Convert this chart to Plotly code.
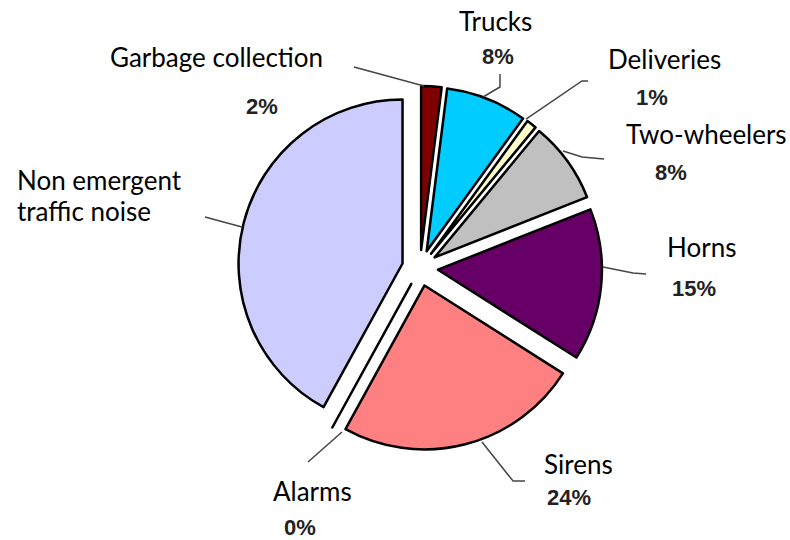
import plotly.graph_objects as go

W, H = 790, 540

# ---- data ----
categories = ["Garbage collection", "Trucks", "Deliveries", "Two-wheelers",
              "Horns", "Sirens", "Alarms", "Non emergent traffic noise"]
shares = [2, 8, 1, 8, 15, 24, 0, 42]
show_pct = [True, True, True, True, True, True, True, False]

# ---- styles ----
colors = ["#800000", "#00CCFF", "#FFFFCC", "#C0C0C0",
          "#660066", "#FF8080", "#FFFFFF", "#CCCCFF"]
pulls = [0.11] * len(shares)

# pie box in pixels (centre and half size)
CX, CY, HALF = 420, 268, 182

NAME_SIZE = 26
PCT_SIZE = 22


def px(x):
    return x / W


def py(y):
    return 1 - y / H


fig = go.Figure(go.Pie(
    labels=categories,
    values=shares,
    sort=False,
    direction="clockwise",
    rotation=0,
    pull=pulls,
    textinfo="none",
    hoverinfo="label+percent",
    marker=dict(colors=colors, line=dict(color="#000000", width=2.5)),
    showlegend=False,
    domain=dict(x=[px(CX - HALF), px(CX + HALF)], y=[py(CY + HALF), py(CY - HALF)]),
))

# label placement (pixels, visual centre of capitals): list of name lines, pct centre
label_layout = {
    "Garbage collection": dict(lines=[("Garbage collection", 216, 56.5, "center")], pct=(262, 106.5)),
    "Trucks": dict(lines=[("Trucks", 495, 20.5, "center")], pct=(497.5, 56)),
    "Deliveries": dict(lines=[("Deliveries", 664, 59.5, "center")], pct=(652, 98)),
    "Two-wheelers": dict(lines=[("Two-wheelers", 706, 134, "center")], pct=(671, 172.5)),
    "Horns": dict(lines=[("Horns", 701.5, 246.5, "center")], pct=(694, 288)),
    "Sirens": dict(lines=[("Sirens", 578.5, 464, "center")], pct=(569, 497)),
    "Alarms": dict(lines=[("Alarms", 312.5, 490.5, "center")], pct=(299.5, 527.5)),
    "Non emergent traffic noise": dict(lines=[("Non emergent", 15, 180, "left"),
                                              ("traffic noise", 15, 211.5, "left")], pct=None),
}

leaders = {
    "Garbage collection": [(354, 67), (424, 86)],
    "Trucks": [(500, 74), (500, 87), (483, 97)],
    "Deliveries": [(588, 81), (582, 81), (526, 119)],
    "Two-wheelers": [(563, 151), (582, 157), (604, 159)],
    "Horns": [(603, 267), (633, 273), (646, 274)],
    "Sirens": [(482, 442), (513, 481), (525, 481)],
    "Alarms": [(342, 432), (308, 462)],
    "Non emergent traffic noise": [(205, 217), (242, 227)],
}

name_font = dict(family="Lato, Carlito, sans-serif", size=NAME_SIZE, color="#000000")
pct_font = dict(family="Liberation Sans, Arial, sans-serif", size=PCT_SIZE, color="#24221e")

annotations = []
shapes = []
for cat, v, sp in zip(categories, shares, show_pct):
    lay = label_layout[cat]
    for txt, nx, ny, anc in lay["lines"]:
        annotations.append(dict(
            x=px(nx), y=py(ny), xref="paper", yref="paper",
            text=txt, showarrow=False, align=anc,
            xanchor=anc, yanchor="middle", font=name_font))
    if sp and lay["pct"] is not None:
        qx, qy = lay["pct"]
        annotations.append(dict(
            x=px(qx), y=py(qy), xref="paper", yref="paper",
            text="<b>%d%%</b>" % v, showarrow=False,
            xanchor="center", yanchor="middle", font=pct_font))
    pts = leaders[cat]
    path = "M " + " L ".join("%.4f,%.4f" % (px(x), py(y)) for x, y in pts)
    shapes.append(dict(type="path", path=path, xref="paper", yref="paper",
                       line=dict(color="#454545", width=1.5)))

fig.update_layout(
    width=W, height=H,
    margin=dict(l=0, r=0, t=0, b=0),
    paper_bgcolor="#FFFFFF", plot_bgcolor="#FFFFFF",
    annotations=annotations, shapes=shapes,
)

fig.write_html("out.html", config={"displayModeBar": False},
               post_script="document.body.style.margin='0px';")
